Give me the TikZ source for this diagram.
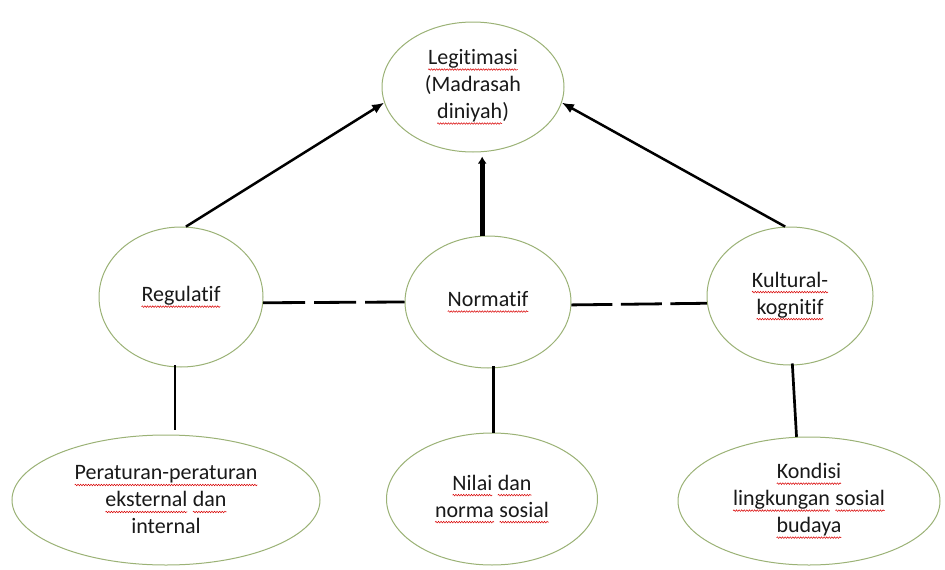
\documentclass[tikz,border=0pt]{standalone}
\usepackage{fontspec}
\setmainfont{Carlito}[Ligatures=NoCommon]
\usetikzlibrary{shapes.geometric,arrows.meta,decorations.pathmorphing}
\definecolor{edge}{RGB}{155,178,118}
\definecolor{txt}{RGB}{25,25,25}
\tikzset{
  sqword/.style={rectangle, draw=none, fill=none, inner sep=0pt, outer sep=0pt,
    minimum width=0pt, minimum height=0pt, align=left},
  sqline/.style={red!85!black, line width=0.5pt, decorate,
    decoration={snake,amplitude=0.8pt,segment length=2.6pt}},
  bubble/.style={ellipse, draw=edge, line width=1pt, fill=white, inner sep=0pt,
    align=center, text=txt, font=\fontsize{22}{27}\selectfont},
  arr/.style={line width=2.5pt, -{Latex[length=12pt,width=10pt]}},
  link/.style={line width=2.7pt},
  dashlink/.style={line width=2.8pt, dash pattern=on 42pt off 9pt}
}
\newcommand\sq[1]{\tikz[baseline=(w.base)]{\node[sqword] (w) {#1};
  \draw[sqline] ([yshift=-5pt]w.base west) -- ([yshift=-5pt]w.base east);}}
\begin{document}
\begin{tikzpicture}[x=1pt,y=-1pt]
\useasboundingbox (0,0) rectangle (945,570);
\node[bubble, minimum width=182pt, minimum height=130pt] (leg) at (473,87)
  {\sq{Legitimasi}\\(Madrasah\\\sq{diniyah})};
\node[bubble, minimum width=164pt, minimum height=140pt] (reg) at (181,297) {\sq{Regulatif}};
\node[bubble, minimum width=166pt, minimum height=132pt] (nor) at (488,302) {\sq{Normatif}};
\node[bubble, minimum width=166pt, minimum height=138pt] (kul) at (790,296) {\sq{Kultural-}\\\sq{kognitif}};
\node[bubble, minimum width=308pt, minimum height=130pt] (per) at (166,500)
  {\sq{Peraturan-peraturan}\\\sq{eksternal} \sq{dan}\\internal};
\node[bubble, minimum width=211pt, minimum height=132pt] (nil) at (492,499)
  {\sq{Nilai} \sq{dan}\\\sq{norma} \sq{sosial}};
\node[bubble, minimum width=262pt, minimum height=128pt] (kon) at (809,501)
  {\sq{Kondisi}\\\sq{lingkungan} \sq{sosial}\\\sq{budaya}};
% arrows to legitimasi
\draw[arr] (reg.86) -- (leg.190);
\draw[arr] (kul.94) -- (leg.-10);
\draw[line width=5pt, -{Latex[length=7pt,width=9pt]}, shorten >=4pt] (nor.95) -- (nor.95 |- leg.south);
% dashed links
\draw[dashlink] (reg.-4) -- (nor.west);
\draw[line width=2.8pt, dash pattern=on 41pt off 8.5pt] (nor.-2) -- (kul.185);
% verticals
\draw[link, shorten <=-2pt, shorten >=5pt] (reg.265) -- (reg.265 |- per.north);
\draw[link, shorten <=-2pt] (nor.275) -- (nor.275 |- nil.north);
\draw[link, shorten <=-2pt] (kul.272) -- (kon.101);
\end{tikzpicture}
\end{document}
